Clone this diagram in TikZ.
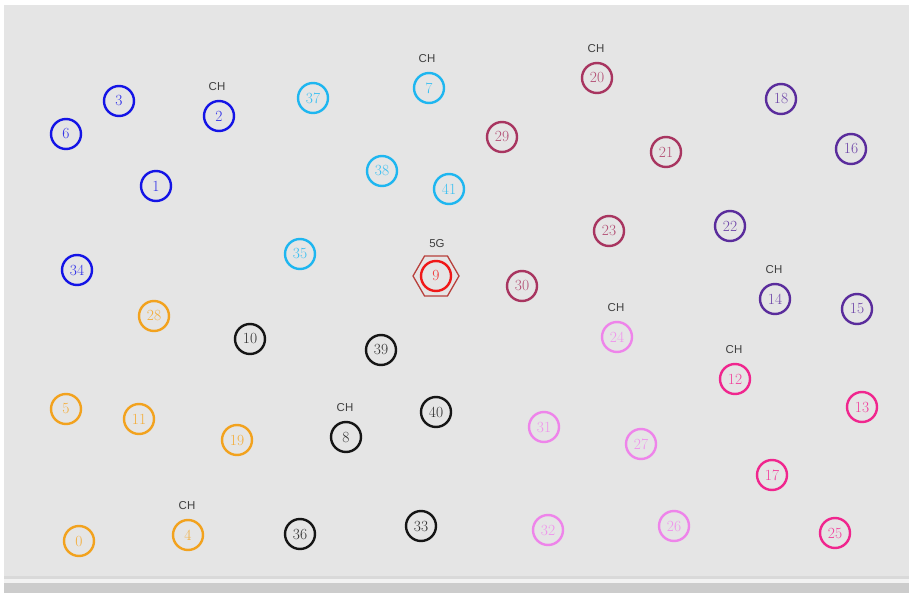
\documentclass[tikz,border=0pt]{standalone}
\usepackage{fontspec}
\newfontfamily\chfont{Liberation Sans}
\usetikzlibrary{shapes.geometric}
\definecolor{bg}{HTML}{E5E5E5}
\definecolor{cblue}{HTML}{1414E6}
\definecolor{ccyan}{HTML}{1EB6F0}
\definecolor{cmaroon}{HTML}{A83560}
\definecolor{cpurple}{HTML}{5A2C9C}
\definecolor{corange}{HTML}{F2A21E}
\definecolor{cblack}{HTML}{151515}
\definecolor{cviolet}{HTML}{EE84EA}
\definecolor{cpink}{HTML}{F0268E}
\definecolor{cred}{HTML}{F01818}
\definecolor{chex}{HTML}{B8403C}
\tikzset{
  nd/.style={circle, draw=#1, text=#1!88!white, line width=2.4pt, minimum size=30pt, inner sep=0pt,
    font=\fontsize{15.5}{15.5}\selectfont},
  ch/.style={font=\chfont\fontsize{11.5}{12}\selectfont, text=black!75},
}
\begin{document}
\begin{tikzpicture}[x=1pt,y=-1pt]
\useasboundingbox (0,0) rectangle (909,593);
\fill[white] (0,0) rectangle (909,593);
\fill[bg] (4,5) rectangle (909,576);
\fill[black!15] (4,576) rectangle (909,579);
\fill[white!95!black] (4,579) rectangle (909,583);
\fill[black!20] (4,583) rectangle (909,593);
% blue
\node[nd=cblue] (n6) at (66,134) {6};
\node[nd=cblue] (n3) at (119,101) {3};
\node[nd=cblue] (n2) at (219,116) {2};
\node[nd=cblue] (n1) at (156,186) {1};
\node[nd=cblue] (n34) at (77,270) {34};
% cyan
\node[nd=ccyan] (n37) at (313,98) {37};
\node[nd=ccyan] (n7) at (429,88) {7};
\node[nd=ccyan] (n38) at (382,171) {38};
\node[nd=ccyan] (n41) at (449,189) {41};
\node[nd=ccyan] (n35) at (300,254) {35};
% red hexagon
\node[regular polygon, regular polygon sides=6, draw=chex, line width=1.3pt, minimum size=46pt, inner sep=0pt] (hex) at (436,276) {};
\node[nd=cred] (n9) at (436,276) {9};
% maroon
\node[nd=cmaroon] (n29) at (502,137) {29};
\node[nd=cmaroon] (n20) at (597,78) {20};
\node[nd=cmaroon] (n21) at (666,152) {21};
\node[nd=cmaroon] (n23) at (609,231) {23};
\node[nd=cmaroon] (n30) at (522,286) {30};
% purple
\node[nd=cpurple] (n18) at (781,99) {18};
\node[nd=cpurple] (n16) at (851,149) {16};
\node[nd=cpurple] (n22) at (730,226) {22};
\node[nd=cpurple] (n14) at (775,299) {14};
\node[nd=cpurple] (n15) at (857,309) {15};
% orange
\node[nd=corange] (n28) at (154,316) {28};
\node[nd=corange] (n5) at (66,409) {5};
\node[nd=corange] (n11) at (139,419) {11};
\node[nd=corange] (n19) at (237,440) {19};
\node[nd=corange] (n0) at (79,541) {0};
\node[nd=corange] (n4) at (188,535) {4};
% black
\node[nd=cblack] (n10) at (250,339) {10};
\node[nd=cblack] (n39) at (381,350) {39};
\node[nd=cblack] (n40) at (436,412) {40};
\node[nd=cblack] (n8) at (346,437) {8};
\node[nd=cblack] (n36) at (300,534) {36};
\node[nd=cblack] (n33) at (421,526) {33};
% violet
\node[nd=cviolet] (n24) at (617,337) {24};
\node[nd=cviolet] (n31) at (544,427) {31};
\node[nd=cviolet] (n27) at (641,444) {27};
\node[nd=cviolet] (n32) at (548,530) {32};
\node[nd=cviolet] (n26) at (674,526) {26};
% pink
\node[nd=cpink] (n12) at (735,379) {12};
\node[nd=cpink] (n13) at (862,407) {13};
\node[nd=cpink] (n17) at (772,475) {17};
\node[nd=cpink] (n25) at (835,533) {25};
% labels
\node[ch] (l2) at (217,87) {CH};
\node[ch] (l7) at (427,59) {CH};
\node[ch] (l20) at (596,49) {CH};
\node[ch] (l14) at (774,270) {CH};
\node[ch] (l24) at (616,308) {CH};
\node[ch] (l12) at (734,350) {CH};
\node[ch] (l8) at (345,408) {CH};
\node[ch] (l4) at (187,506) {CH};
\node[ch] (l9) at (437,244) {5G};
\end{tikzpicture}
\end{document}
